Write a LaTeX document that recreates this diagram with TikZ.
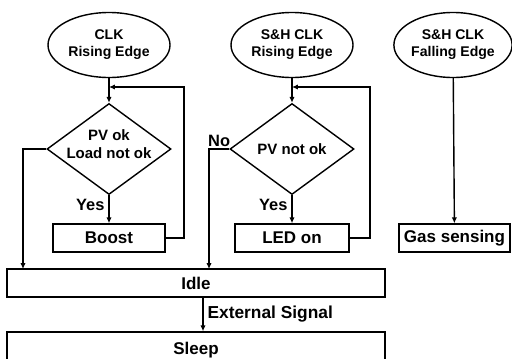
\documentclass[tikz,border=0pt]{standalone}
\usepackage{fontspec}
\setmainfont{Liberation Sans}
\usetikzlibrary{shapes.geometric, arrows.meta}

\begin{document}
\begin{tikzpicture}[x=0.03cm, y=-0.03cm, line width=1.2pt,
    evt/.style={draw, ellipse, minimum width=3.66cm, minimum height=1.95cm, inner sep=0pt, align=center, font=\bfseries\fontsize{12}{14.5}\selectfont},
    dec/.style={draw, diamond, minimum width=3.72cm, minimum height=2.73cm, inner sep=0pt},
    dtext/.style={align=center, yshift=0.16cm, font=\bfseries\fontsize{12.8}{15.4}\selectfont},
    stbox/.style={draw, rectangle, minimum height=0.84cm, inner sep=0pt, font=\bfseries\fontsize{14.5}{16}\selectfont},
    lbl/.style={font=\bfseries\fontsize{14}{16}\selectfont},
    arr/.style={-{Latex[length=5pt, width=4.5pt]}}]

\clip (0,0) rectangle (512,358);

% Clock events
\node[evt] (clkA) at (109,45) {CLK\\Rising Edge};
\node[evt] (clkB) at (292,45) {S\&H CLK\\Rising Edge};
\node[evt, minimum width=3.54cm] (clkC) at (453,45) {S\&H CLK\\Falling Edge};

% Decisions
\node[dec, label={[dtext]center:{PV ok\\Load not ok}}] (dA) at (109,149) {};
\node[dec, label={[dtext, yshift=-0.16cm]center:{PV not ok}}] (dB) at (292,149) {};

% Actions
\node[stbox, minimum width=3.36cm] (boost) at (109,238) {Boost};
\node[stbox, minimum width=3.42cm] (led) at (292,238) {LED on};
\node[stbox, minimum width=3.33cm] (gas) at (454.5,238) {Gas sensing};

% States
\node[stbox, minimum width=11.34cm] (idle) at (196,283) {Idle};
\node[stbox, minimum width=11.34cm, minimum height=1.08cm] (sleep) at (196,350) {Sleep};

% Merge points and corners
\coordinate (mA) at (109,87);
\coordinate (rA) at (184,87);
\coordinate (lA) at (23,269);
\coordinate (mB) at (292,87);
\coordinate (rB) at (370,87);
\coordinate (lB) at (209,269);

% Left branch
\draw[arr] (clkA) -- (dA);
\draw[arr] (dA.south) -- node[lbl, left, pos=0.36] {Yes} (boost.north);
\draw[arr] (boost.east) -| (rA) -- (mA);
\draw[arr] (dA.west) -| (lA);

% Middle branch
\draw[arr] (clkB) -- (dB);
\draw[arr] (dB.south) -- node[lbl, left, pos=0.36] {Yes} (led.north);
\draw[arr] (led.east) -| (rB) -- (mB);
\draw[arr] (dB.west) -| node[lbl, above, pos=0.25, inner sep=1pt] {No} (lB);

% Right branch
\draw[arr] (clkC) -- (gas);

% Idle to sleep
\draw[arr] ([xshift=0.21cm]idle.south) -- node[lbl, right, font=\bfseries\fontsize{14.8}{16}\selectfont] {External Signal} ([xshift=0.21cm]sleep.north);

\end{tikzpicture}
\end{document}
